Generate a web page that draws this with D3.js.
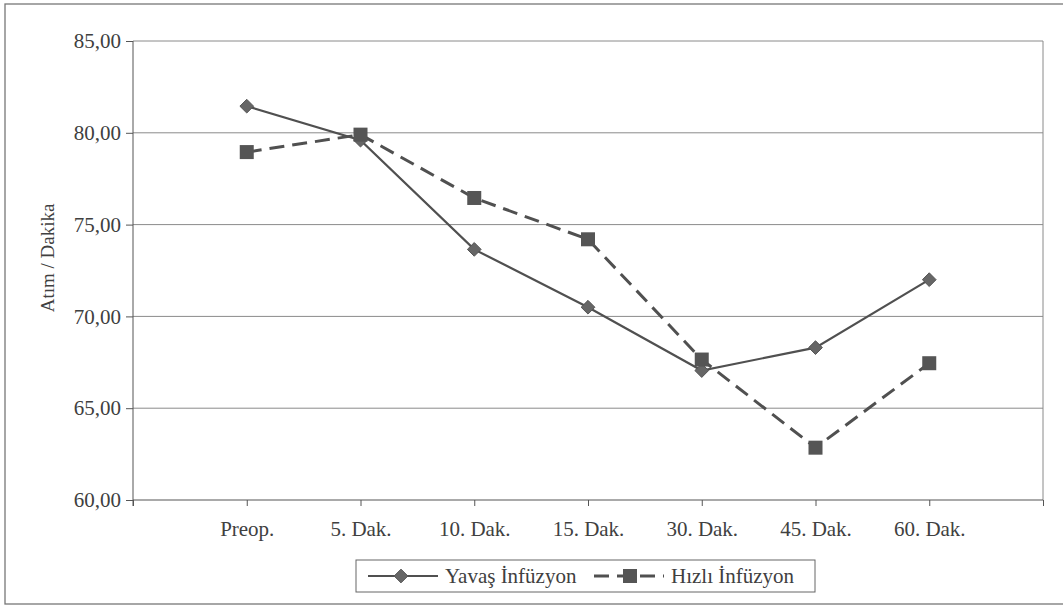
<!DOCTYPE html>
<html>
<head>
<meta charset="utf-8">
<script src="https://cdn.jsdelivr.net/npm/d3@7"></script>
<style>
  body { margin: 0; background: #fff; }
  svg text { font-family: 'Liberation Serif', 'DejaVu Serif', serif !important; fill: #404040; }
</style>
</head>
<body>
<div id="chart"></div>
<script>
// data
const categories = ["Preop.", "5. Dak.", "10. Dak.", "15. Dak.", "30. Dak.", "45. Dak.", "60. Dak."];
const yavas = [81.45, 79.6, 73.65, 70.5, 67.05, 68.3, 72.0];
const hizli = [78.95, 79.9, 76.45, 74.2, 67.65, 62.85, 67.45];
const yTicks = [60, 65, 70, 75, 80, 85];
const seriesNames = ["Yavaş İnfüzyon", "Hızlı İnfüzyon"];
const yLabel = "Atım / Dakika";

const width = 1063, height = 609;
const margin = {top: 41, right: 20, bottom: 109, left: 133};
const lineColor = "#505050";
const serif = "'Liberation Serif', 'DejaVu Serif', serif";

const svg = d3.select("#chart").append("svg")
  .attr("width", width)
  .attr("height", height)
  .attr("font-family", serif);

// outer frame
svg.append("rect")
  .attr("x", 5).attr("y", 4)
  .attr("width", 1070).attr("height", 600)
  .attr("fill", "none").attr("stroke", "#777").attr("stroke-width", 1.3);

// categories sit on ticks 1..7 of a 0..8 axis
const x = d3.scaleLinear()
  .domain([0, categories.length + 1])
  .range([margin.left, 1043]);
const y = d3.scaleLinear()
  .domain([60, 85])
  .range([500, margin.top]);

const g = svg.append("g");

// gridlines
g.selectAll(".grid")
  .data(yTicks.slice(1))
  .enter().append("line")
  .attr("class", "grid")
  .attr("x1", x(0)).attr("x2", x(categories.length + 1))
  .attr("y1", d => y(d)).attr("y2", d => y(d))
  .attr("stroke", "#8a8a8a").attr("stroke-width", 1);

// plot right border
g.append("line")
  .attr("x1", x(categories.length + 1)).attr("x2", x(categories.length + 1))
  .attr("y1", y(85)).attr("y2", y(60))
  .attr("stroke", "#8a8a8a");

// y axis
const yAxis = g.append("g")
  .attr("transform", "translate(" + x(0) + ",0)")
  .call(d3.axisLeft(y).tickValues(yTicks).tickSize(7).tickPadding(5)
    .tickFormat(d => d3.format(".2f")(d).replace(".", ",")));
yAxis.attr("font-family", serif);
yAxis.select(".domain").attr("stroke", "#555").attr("d", "M0," + y(85) + "V" + (y(60) + 6));
yAxis.selectAll(".tick line").attr("stroke", "#555");
yAxis.selectAll("text").style("font-size", "21px").style("font-family", serif).attr("fill", "#404040");

// x axis
const xAxis = g.append("g")
  .attr("transform", "translate(0," + y(60) + ")")
  .call(d3.axisBottom(x).ticks(categories.length + 1).tickSize(6).tickPadding(15)
    .tickFormat(d => categories[d - 1] || ""));
xAxis.attr("font-family", serif);
xAxis.select(".domain").attr("stroke", "#555").attr("d", "M" + x(0) + ",0H" + x(categories.length + 1));
xAxis.selectAll(".tick line").attr("stroke", "#555");
xAxis.selectAll("text").style("font-size", "21px").style("font-family", serif).attr("fill", "#404040");

// y label
svg.append("text")
  .attr("transform", "translate(54,258) rotate(-90)")
  .attr("text-anchor", "middle")
  .style("font-size", "19px")
  .style("font-family", serif)
  .text(yLabel);

const line = d3.line()
  .x((d, i) => x(i + 1))
  .y(d => y(d));

// Yavaş: solid + diamonds
g.append("path")
  .datum(yavas)
  .attr("d", line)
  .attr("fill", "none").attr("stroke", lineColor).attr("stroke-width", 2.2);
g.selectAll(".dia")
  .data(yavas)
  .enter().append("path")
  .attr("class", "dia")
  .attr("transform", (d, i) => "translate(" + x(i + 1) + "," + y(d) + ")")
  .attr("d", d3.symbol(d3.symbolDiamond2, 120))
  .attr("fill", "#666").attr("stroke", "#555");

// Hızlı: dashed + squares
g.append("path")
  .datum(hizli)
  .attr("d", line)
  .attr("fill", "none").attr("stroke", lineColor).attr("stroke-width", 3)
  .attr("stroke-dasharray", "15,8");
g.selectAll(".sq")
  .data(hizli)
  .enter().append("rect")
  .attr("class", "sq")
  .attr("x", (d, i) => x(i + 1) - 7)
  .attr("y", d => y(d) - 7)
  .attr("width", 14).attr("height", 14)
  .attr("fill", "#555");

// legend
const lg = svg.append("g");
lg.append("rect")
  .attr("x", 356).attr("y", 560).attr("width", 459).attr("height", 32)
  .attr("fill", "none").attr("stroke", "#666");
lg.append("line")
  .attr("x1", 368).attr("x2", 438).attr("y1", 576).attr("y2", 576)
  .attr("stroke", lineColor).attr("stroke-width", 2.2);
lg.append("path")
  .attr("transform", "translate(401,576)")
  .attr("d", d3.symbol(d3.symbolDiamond2, 120))
  .attr("fill", "#666").attr("stroke", "#555");
lg.append("text")
  .attr("x", 445).attr("y", 583)
  .style("font-size", "21px")
  .style("font-family", serif)
  .text(seriesNames[0]);
lg.append("line")
  .attr("x1", 594).attr("x2", 664).attr("y1", 576).attr("y2", 576)
  .attr("stroke", lineColor).attr("stroke-width", 3)
  .attr("stroke-dasharray", "15,8");
lg.append("rect")
  .attr("x", 623).attr("y", 569).attr("width", 14).attr("height", 14)
  .attr("fill", "#555");
lg.append("text")
  .attr("x", 671).attr("y", 583)
  .style("font-size", "21px")
  .style("font-family", serif)
  .text(seriesNames[1]);
</script>
</body>
</html>
